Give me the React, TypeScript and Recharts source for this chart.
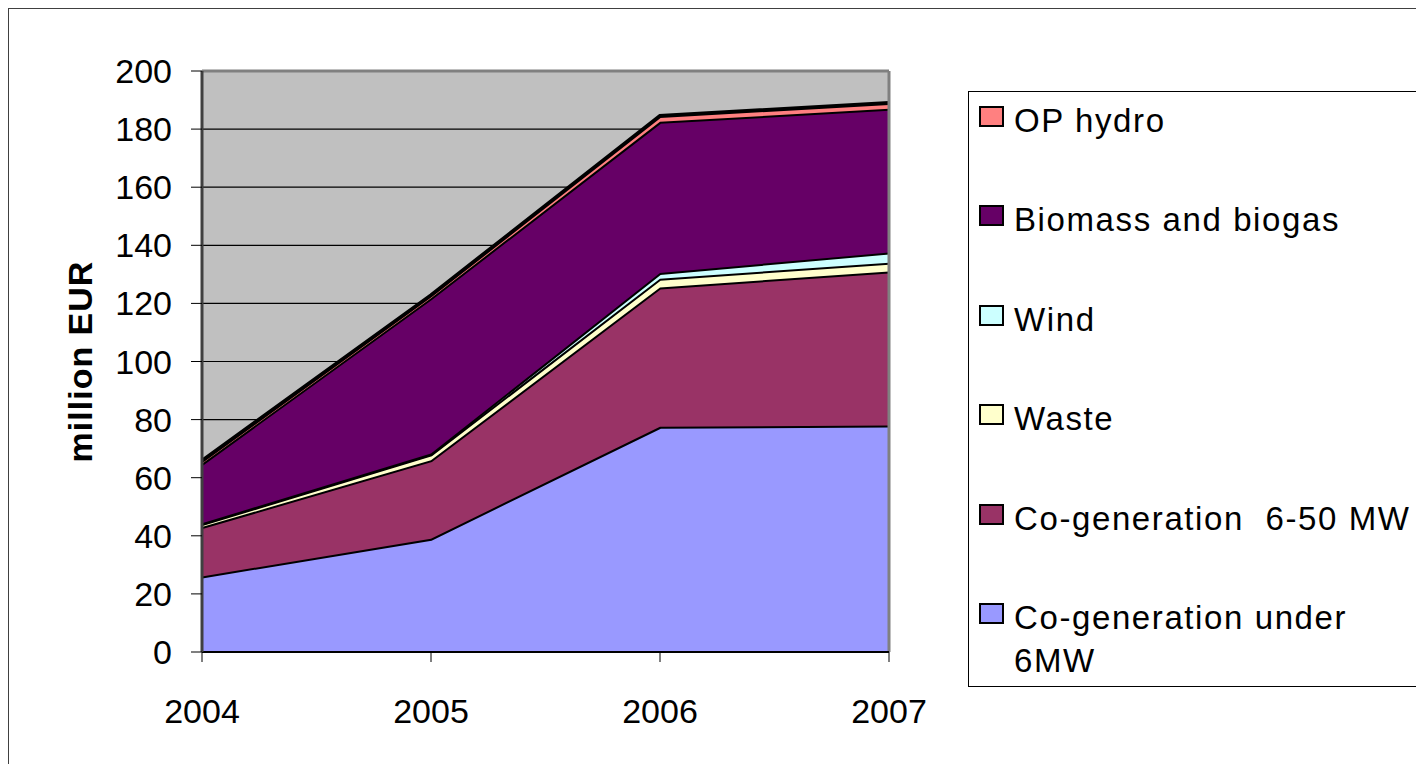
import { AreaChart, Area, XAxis, YAxis, CartesianGrid, ReferenceLine, Legend } from "recharts";

const years = ["2004", "2005", "2006", "2007"];

// million EUR per source, stacked bottom to top
const cogenUnder6 = [26, 39, 77.5, 78];
const cogen6to50 = [17, 27, 48, 53];
const waste = [1, 2, 3, 3];
const wind = [0.3, 0.3, 2, 3.5];
const biomass = [20.5, 53.5, 52, 49.5];
const opHydro = [1, 1, 2, 2];

const yTicks = [0, 20, 40, 60, 80, 100, 120, 140, 160, 180, 200];

const series = [
  { key: "under6", name: "Co-generation under 6MW", color: "#9999FF", values: cogenUnder6 },
  { key: "cogen", name: "Co-generation  6-50 MW", color: "#993366", values: cogen6to50 },
  { key: "waste", name: "Waste", color: "#FFFFCC", values: waste },
  { key: "wind", name: "Wind", color: "#CCFFFF", values: wind },
  { key: "biomass", name: "Biomass and biogas", color: "#660066", values: biomass },
  { key: "hydro", name: "OP hydro", color: "#FF8080", values: opHydro },
];

const data = years.map((year, i) => {
  const row: Record<string, string | number> = { year };
  series.forEach((s) => (row[s.key] = s.values[i]));
  return row;
});

const FONT = "'Liberation Sans', Arial, sans-serif";

const YLabel = (props: any) => {
  const { viewBox } = props;
  const cy = viewBox.y + viewBox.height / 2;
  return (
    <text
      x={72}
      y={cy}
      transform={`rotate(-90, 72, ${cy})`}
      textAnchor="middle"
      dominantBaseline="central"
      fontFamily={FONT}
      fontWeight="bold"
      fontSize={34}
      letterSpacing={1}
      fill="#000"
    >
      million EUR
    </text>
  );
};

// legend lists the series top-down, like the stack
const LegendBox = () => (
  <div
    style={{
      position: "absolute",
      left: 960,
      top: 83,
      width: 470,
      height: 596,
      border: "1px solid #000",
      boxSizing: "border-box",
      fontFamily: FONT,
      fontSize: 33,
      letterSpacing: 1.6,
      color: "#000",
    }}
  >
    {[...series].reverse().map((s, i) => (
      <div
        key={s.key}
        style={{ position: "absolute", left: 10, top: 7 + i * 99.4, display: "flex", alignItems: "flex-start" }}
      >
        <div
          style={{
            width: 25,
            height: 21,
            marginTop: 7,
            background: s.color,
            border: "2px solid #000",
            boxSizing: "border-box",
          }}
        />
        <div
          style={{
            marginLeft: 10,
            lineHeight: "43px",
            whiteSpace: s.key === "under6" ? "normal" : "pre",
            width: s.key === "under6" ? 360 : 440,
          }}
        >
          {s.name}
        </div>
      </div>
    ))}
  </div>
);

export default function App() {
  return (
    <div style={{ position: "relative", width: 1416, height: 756, overflow: "hidden" }}>
      <div
        style={{
          position: "absolute",
          left: 0,
          top: 0,
          width: 1430,
          height: 770,
          border: "1px solid #404040",
          boxSizing: "border-box",
        }}
      />
      <AreaChart
        width={1416}
        height={756}
        data={data}
        margin={{ top: 63, right: 535, bottom: 0, left: 0 }}
        style={{ position: "absolute", left: 0, top: 0 }}
      >
        <CartesianGrid horizontal vertical={false} stroke="#000" strokeWidth={1.2} fill="#C0C0C0" fillOpacity={1} />
        <XAxis
          dataKey="year"
          height={112}
          tickSize={10}
          tickMargin={37}
          axisLine={{ stroke: "#000", strokeWidth: 2 }}
          tickLine={{ stroke: "#000" }}
          tick={{ fontFamily: FONT, fontSize: 34, fill: "#000" }}
        />
        <YAxis
          domain={[0, 200]}
          ticks={yTicks}
          width={194}
          tickSize={11}
          tickMargin={19}
          interval={0}
          axisLine={{ stroke: "#404040", strokeWidth: 3 }}
          tickLine={{ stroke: "#000" }}
          tick={{ fontFamily: FONT, fontSize: 34, fill: "#000" }}
          label={<YLabel />}
        />
        {series.map((s) => (
          <Area
            key={s.key}
            type="linear"
            dataKey={s.key}
            name={s.name}
            stackId="1"
            fill={s.color}
            fillOpacity={1}
            stroke="#000"
            strokeWidth={4}
            isAnimationActive={false}
          />
        ))}
        <ReferenceLine y={200} stroke="#808080" strokeWidth={3} />
        <ReferenceLine x="2007" stroke="#808080" strokeWidth={3} />
        <Legend content={() => null} />
      </AreaChart>
      <LegendBox />
    </div>
  );
}
